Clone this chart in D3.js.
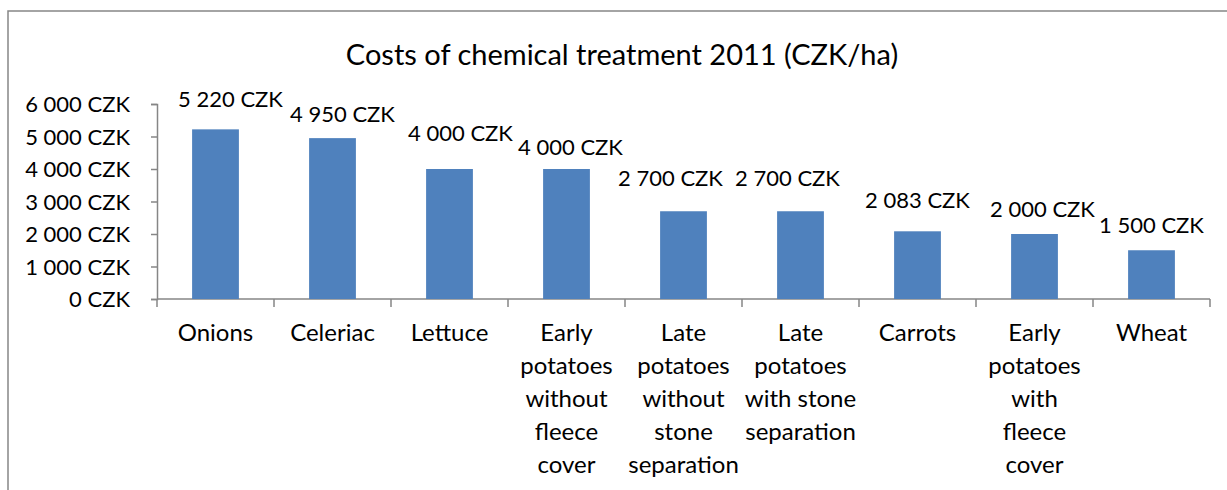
<!DOCTYPE html>
<meta charset="utf-8">
<script src="https://d3js.org/d3.v7.min.js"></script>
<style>
  body { margin: 0; background: #fff; }
  svg text { font-family: Lato, "Open Sans", sans-serif; fill: #000; }
</style>
<div id="my_dataviz"></div>
<script>

// categories (line breaks as wrapped in the original)
var categories = [
  "Onions",
  "Celeriac",
  "Lettuce",
  "Early\npotatoes\nwithout\nfleece\ncover",
  "Late\npotatoes\nwithout\nstone\nseparation",
  "Late\npotatoes\nwith stone\nseparation",
  "Carrots",
  "Early\npotatoes\nwith\nfleece\ncover",
  "Wheat"
];
var costs = [5220, 4950, 4000, 4000, 2700, 2700, 2083, 2000, 1500];
var yTicks = [0, 1000, 2000, 3000, 4000, 5000, 6000];
var title = "Costs of chemical treatment 2011 (CZK/ha)";

// label nudges (Excel moves labels around to avoid overlaps): [dx, gap above bar]
var labelNudge = [[15, 30], [10, 24], [11, 36], [4, 22], [-13, 33], [-13, 33], [0, 31], [8, 25], [0, 25]];

var W = 1227, H = 490;
var margin = {top: 104, left: 157, right: 17, bottom: 191};
var width = W - margin.left - margin.right,
    height = H - margin.top - margin.bottom;

function fmt(v) {
  return d3.format(",")(v).replace(/,/g, " ") + " CZK";
}

var svg = d3.select("#my_dataviz")
  .append("svg")
  .attr("width", W)
  .attr("height", H);

// chart frame (runs off the right and bottom like the source)
svg.append("rect")
  .attr("x", 8).attr("y", 11)
  .attr("width", W + 20).attr("height", H + 20)
  .attr("fill", "none")
  .attr("stroke", "#868686")
  .attr("stroke-width", 1.5);

svg.append("text")
  .attr("x", 622).attr("y", 65)
  .attr("text-anchor", "middle")
  .style("font-size", "29px")
  .text(title);

var g = svg.append("g")
  .attr("transform", "translate(" + margin.left + "," + margin.top + ")");

var x = d3.scaleBand()
  .domain(categories)
  .range([0, width])
  .paddingInner(0.6)
  .paddingOuter(0.3);

var y = d3.scaleLinear()
  .domain([0, 6000])
  .range([height, 0]);

// y axis
var yAxis = g.append("g")
  .call(d3.axisLeft(y).tickValues(yTicks).tickSize(6).tickPadding(21).tickFormat(fmt));
yAxis.selectAll("text").style("font-size", "22px").attr("dy", "0.35em");
yAxis.select(".domain").attr("stroke", "#868686").attr("stroke-width", 1.5);
yAxis.selectAll(".tick line").attr("stroke", "#868686").attr("stroke-width", 1.5);

// x axis: ticks at category boundaries
var xAxis = g.append("g")
  .attr("transform", "translate(0," + height + ")");
xAxis.append("line")
  .attr("x1", 0).attr("x2", width)
  .attr("stroke", "#868686").attr("stroke-width", 1.5);
xAxis.selectAll("line.tick")
  .data(d3.range(categories.length + 1))
  .enter().append("line")
  .attr("class", "tick")
  .attr("x1", function(i) { return i * x.step(); })
  .attr("x2", function(i) { return i * x.step(); })
  .attr("y1", 0).attr("y2", 8)
  .attr("stroke", "#868686").attr("stroke-width", 1.5);

// category labels
xAxis.selectAll("text.cat")
  .data(categories)
  .enter().append("text")
  .attr("class", "cat")
  .attr("text-anchor", "middle")
  .style("font-size", "24px")
  .attr("transform", function(d) {
    return "translate(" + (x(d) + x.bandwidth() / 2) + ",42)";
  })
  .each(function(d) {
    var t = d3.select(this);
    d.split("\n").forEach(function(line, i) {
      t.append("tspan").attr("x", 0).attr("y", i * 33).text(line);
    });
  });

// bars
g.selectAll("rect.bar")
  .data(costs)
  .enter().append("rect")
  .attr("class", "bar")
  .attr("x", function(d, i) { return x(categories[i]); })
  .attr("y", function(d) { return y(d); })
  .attr("width", x.bandwidth())
  .attr("height", function(d) { return height - y(d); })
  .attr("fill", "#4F81BD");

// value labels
g.selectAll("text.val")
  .data(costs)
  .enter().append("text")
  .attr("class", "val")
  .attr("text-anchor", "middle")
  .attr("x", function(d, i) { return x(categories[i]) + x.bandwidth() / 2 + labelNudge[i][0]; })
  .attr("y", function(d, i) { return y(d) - labelNudge[i][1] + 8; })
  .style("font-size", "22px")
  .text(fmt);

</script>
